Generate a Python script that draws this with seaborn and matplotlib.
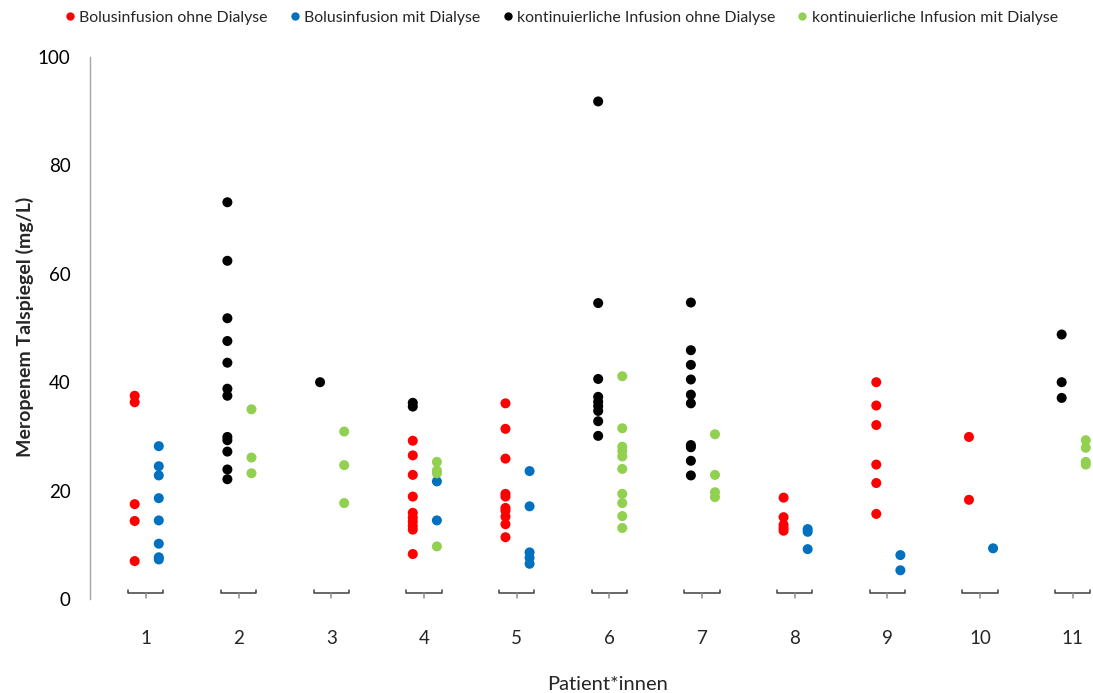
import numpy as np
import pandas as pd
import matplotlib
matplotlib.use("Agg")
import matplotlib.pyplot as plt
import seaborn as sns

# ---- data ----
patients = [1, 2, 3, 4, 5, 6, 7, 8, 9, 10, 11]
groups = ["Bolusinfusion ohne Dialyse", "Bolusinfusion mit Dialyse",
          "kontinuierliche Infusion ohne Dialyse", "kontinuierliche Infusion mit Dialyse"]
colors = ["#FF0000", "#0070C0", "#000000", "#92D050"]

bolus_ohne = {
    1: [37.5, 36.3, 17.5, 14.4, 7.0],
    4: [29.2, 26.5, 22.9, 18.9, 15.9, 15.0, 14.3, 13.5, 12.8, 8.3],
    5: [36.1, 31.4, 25.9, 19.4, 18.9, 16.8, 16.3, 15.2, 13.8, 11.4],
    8: [18.7, 15.1, 13.7, 13.1, 12.6],
    9: [40.0, 35.7, 32.1, 24.8, 21.4, 15.7],
    10: [29.9, 18.3],
}
bolus_mit = {
    1: [28.2, 24.5, 22.8, 18.6, 14.5, 10.2, 7.7, 7.3],
    4: [21.7, 14.5],
    5: [23.6, 17.1, 8.6, 7.6, 6.5],
    8: [12.9, 12.4, 9.2],
    9: [8.1, 5.3],
    10: [9.35],
}
kont_ohne = {
    2: [73.2, 62.4, 51.8, 47.6, 43.6, 38.8, 37.5, 29.9, 29.3, 27.2, 23.9, 22.1],
    3: [40.0],
    4: [36.2, 35.5],
    6: [91.8, 54.6, 40.6, 37.3, 36.4, 35.6, 34.7, 32.8, 30.1],
    7: [54.7, 45.9, 43.2, 40.5, 37.7, 36.1, 28.4, 28.0, 25.5, 22.8],
    11: [48.8, 40.0, 37.1],
}
kont_mit = {
    2: [35.0, 26.1, 23.2],
    3: [30.9, 24.7, 17.7],
    4: [25.3, 23.7, 23.2, 9.7],
    6: [41.1, 31.5, 28.1, 27.3, 26.3, 24.0, 19.4, 17.7, 15.3, 13.1],
    7: [30.4, 22.9, 19.7, 18.8],
    11: [29.3, 27.9, 25.3, 24.8],
}
series = [bolus_ohne, bolus_mit, kont_ohne, kont_mit]
ytick_vals = [0, 20, 40, 60, 80, 100]

rows = []
for g, d in zip(groups, series):
    for p, vals in d.items():
        for v in vals:
            rows.append({"patient": p, "group": g, "value": v})
df = pd.DataFrame(rows)
# left column: ohne Dialyse, right column: mit Dialyse
df["xpos"] = df["patient"] + np.where(df["group"].str.contains("ohne"), -0.12, 0.14)

sns.set_theme(style="white")
plt.rcParams["font.family"] = ["Lato", "DejaVu Sans"]

fig = plt.figure(figsize=(10.93, 6.93), dpi=100)
ax = fig.add_axes([90 / 1093, 94 / 693, 1003 / 1093, 542 / 693])

sns.scatterplot(data=df, x="xpos", y="value", hue="group", hue_order=groups,
                palette=dict(zip(groups, colors)), s=52, edgecolor="none",
                linewidth=0, ax=ax, legend=False, zorder=3)

ax.set_xlim(0.398, 11.218)
ax.set_ylim(0, 100)
ax.set_yticks(ytick_vals)
ax.set_yticklabels([str(v) for v in ytick_vals], fontsize=13.5, color="#000000")
ax.set_xticks(patients)
ax.set_xticklabels([str(p) for p in patients], fontsize=13.5)
ax.tick_params(axis="x", length=0, pad=22)
ax.tick_params(axis="y", length=5, width=1, color="#A6A6A6", direction="out", pad=9)
for s in ["top", "right", "bottom"]:
    ax.spines[s].set_visible(False)
ax.spines["left"].set_color("#A6A6A6")
ax.spines["left"].set_linewidth(1)
ax.set_xlabel("Patient*innen", fontsize=14.5)
ax.xaxis.set_label_coords((608 - 90) / 1003, (599 - 685) / 542)
ax.xaxis.label.set_va("center")
ax.set_ylabel("Meropenem Talspiegel (mg/L)", fontsize=14, fontweight="bold")
ax.yaxis.set_label_coords((25 - 90) / 1003, (599 - 327) / 542)
ax.yaxis.label.set_va("center")

# category brackets under each patient
for p in patients:
    y0 = 1.1
    ax.plot([p - 0.19, p - 0.19, p + 0.19, p + 0.19], [y0 + 0.6, y0, y0, y0 + 0.6],
            color="#404040", lw=1.1, clip_on=False, zorder=2)
    ax.plot([p, p], [y0, y0 - 1.0], color="#8C8C8C", lw=1.1, clip_on=False, zorder=2)

handles = [plt.Line2D([], [], marker="o", linestyle="none", markersize=6,
                      markerfacecolor=c, markeredgecolor="none") for c in colors]
fig.legend(handles, groups, loc="center", bbox_to_anchor=(560 / 1093, 1 - 18 / 693),
           ncol=4, frameon=False, fontsize=11.4, handletextpad=0.1, columnspacing=1.2,
           handlelength=1.0)

fig.savefig("out.png", dpi=100)
